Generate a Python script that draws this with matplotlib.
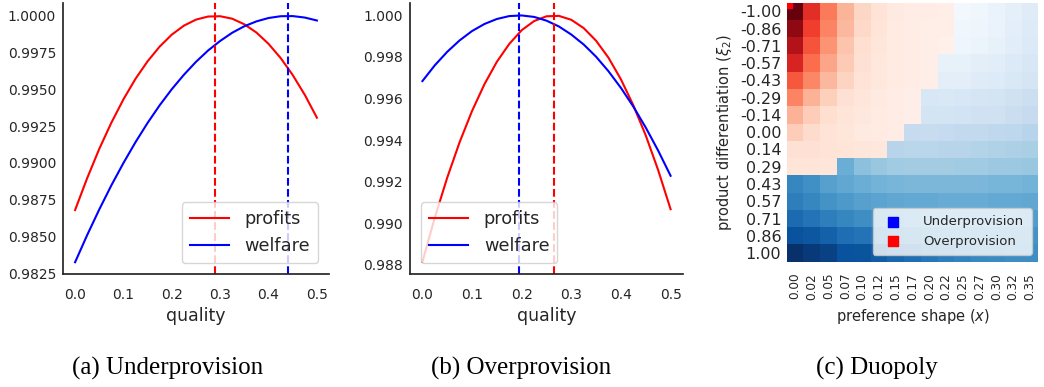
import matplotlib
matplotlib.use("Agg")
import matplotlib.pyplot as plt
import numpy as np
from matplotlib.ticker import FormatStrFormatter

# ---------------- data ----------------
quality = [0.0, 0.025, 0.05, 0.075, 0.1, 0.125, 0.15, 0.175, 0.2, 0.225, 0.25,
           0.275, 0.3, 0.325, 0.35, 0.375, 0.4, 0.425, 0.45, 0.475, 0.5]

# (a) Underprovision
a_profits = [0.98680, 0.98897, 0.99096, 0.99274, 0.99433, 0.99573, 0.99692,
             0.99792, 0.99873, 0.99934, 0.99975, 0.99996, 0.99998, 0.99981,
             0.99943, 0.99887, 0.99810, 0.99714, 0.99598, 0.99463, 0.99308]
a_welfare = [0.98325, 0.98510, 0.98684, 0.98848, 0.99000, 0.99142, 0.99273,
             0.99393, 0.99502, 0.99600, 0.99688, 0.99765, 0.99830, 0.99886,
             0.99930, 0.99963, 0.99986, 0.99998, 0.99999, 0.99989, 0.99969]
a_profit_peak = 0.29
a_welfare_peak = 0.44

# (b) Overprovision
b_profits = [0.98813, 0.99027, 0.99219, 0.99390, 0.99540, 0.99669, 0.99777,
             0.99863, 0.99929, 0.99973, 0.99996, 0.99998, 0.99979, 0.99939,
             0.99878, 0.99796, 0.99692, 0.99567, 0.99422, 0.99255, 0.99067]
b_welfare = [0.99684, 0.99760, 0.99825, 0.99880, 0.99925, 0.99959, 0.99983,
             0.99997, 1.00000, 0.99993, 0.99975, 0.99947, 0.99908, 0.99860,
             0.99801, 0.99731, 0.99651, 0.99561, 0.99460, 0.99349, 0.99228]
b_profit_peak = 0.265
b_welfare_peak = 0.195

quality_ticks = [0.0, 0.1, 0.2, 0.3, 0.4, 0.5]
a_yticks = [0.9825, 0.9850, 0.9875, 0.9900, 0.9925, 0.9950, 0.9975, 1.0000]
b_yticks = [0.988, 0.990, 0.992, 0.994, 0.996, 0.998, 1.000]

# (c) Duopoly heatmap: positive = overprovision (Reds), negative = underprovision (Blues)
pref_labels = ["0.00", "0.02", "0.05", "0.07", "0.10", "0.12", "0.15", "0.17",
               "0.20", "0.22", "0.25", "0.27", "0.30", "0.32", "0.35"]
xi_labels = ["-1.00", "-0.86", "-0.71", "-0.57", "-0.43", "-0.29", "-0.14", "0.00",
             "0.14", "0.29", "0.43", "0.57", "0.71", "0.86", "1.00"]
gap = [
    [1.00, 0.67, 0.45, 0.27, 0.16, 0.11, 0.07, 0.05, 0.05, 0.04, -0.02, -0.04, -0.07, -0.09, -0.12],
    [0.92, 0.62, 0.42, 0.26, 0.15, 0.10, 0.06, 0.05, 0.04, 0.04, -0.04, -0.05, -0.07, -0.10, -0.13],
    [0.83, 0.56, 0.37, 0.22, 0.13, 0.09, 0.06, 0.05, 0.04, 0.03, -0.05, -0.06, -0.08, -0.11, -0.14],
    [0.71, 0.49, 0.32, 0.20, 0.12, 0.08, 0.06, 0.05, 0.04, -0.08, -0.08, -0.10, -0.11, -0.14, -0.16],
    [0.55, 0.41, 0.26, 0.17, 0.11, 0.08, 0.06, 0.05, 0.04, -0.10, -0.10, -0.12, -0.13, -0.15, -0.17],
    [0.42, 0.28, 0.18, 0.12, 0.09, 0.07, 0.05, 0.04, -0.16, -0.15, -0.16, -0.17, -0.18, -0.20, -0.22],
    [0.28, 0.19, 0.13, 0.10, 0.08, 0.06, 0.05, 0.04, -0.18, -0.18, -0.19, -0.20, -0.20, -0.23, -0.25],
    [0.19, 0.14, 0.11, 0.09, 0.07, 0.06, 0.05, -0.25, -0.24, -0.25, -0.26, -0.26, -0.27, -0.28, -0.30],
    [0.12, 0.12, 0.11, 0.10, 0.09, 0.08, -0.30, -0.29, -0.29, -0.30, -0.30, -0.31, -0.32, -0.33, -0.34],
    [0.10, 0.10, 0.09, -0.50, -0.42, -0.39, -0.37, -0.36, -0.36, -0.36, -0.37, -0.37, -0.38, -0.38, -0.39],
    [-0.67, -0.63, -0.56, -0.53, -0.50, -0.48, -0.47, -0.46, -0.46, -0.46, -0.46, -0.46, -0.47, -0.47, -0.48],
    [-0.70, -0.67, -0.62, -0.59, -0.56, -0.55, -0.53, -0.52, -0.52, -0.51, -0.51, -0.51, -0.52, -0.52, -0.53],
    [-0.77, -0.74, -0.70, -0.67, -0.64, -0.62, -0.60, -0.58, -0.57, -0.56, -0.56, -0.56, -0.56, -0.57, -0.58],
    [-0.87, -0.85, -0.81, -0.76, -0.74, -0.71, -0.68, -0.66, -0.64, -0.62, -0.62, -0.61, -0.61, -0.62, -0.62],
    [-1.00, -0.96, -0.93, -0.87, -0.86, -0.83, -0.79, -0.76, -0.73, -0.70, -0.68, -0.66, -0.65, -0.64, -0.64],
]

captions = ["(a) Underprovision", "(b) Overprovision", "(c) Duopoly"]

# ---------------- style ----------------
TXT = "#262626"
plt.rcParams.update({
    "font.family": ["DejaVu Sans"],
    "text.color": TXT,
    "axes.labelcolor": TXT,
    "xtick.color": TXT,
    "ytick.color": TXT,
    "axes.edgecolor": TXT,
    "axes.linewidth": 1.25,
    "xtick.major.size": 0,
    "ytick.major.size": 0,
    "legend.edgecolor": "#cccccc",
    "legend.framealpha": 0.8,
})

W, H = 1044, 387
fig = plt.figure(figsize=(W / 100, H / 100), dpi=100)


def px_axes(left, top, right, bottom):
    return fig.add_axes([left / W, 1 - bottom / H, (right - left) / W, (bottom - top) / H])


def line_panel(ax, profits, welfare, p_peak, w_peak, yticks, fmt, legend_loc):
    ax.plot(quality, profits, color="red", lw=1.5, label="profits")
    ax.plot(quality, welfare, color="blue", lw=1.5, label="welfare")
    ax.axvline(p_peak, color="red", ls="--", lw=1.5)
    ax.axvline(w_peak, color="blue", ls="--", lw=1.5)
    ax.set_xlim(-0.025, 0.525)
    ax.set_xticks(quality_ticks)
    ax.set_yticks(yticks)
    ax.xaxis.set_major_formatter(FormatStrFormatter("%.1f"))
    ax.yaxis.set_major_formatter(FormatStrFormatter(fmt))
    ax.tick_params(axis="y", labelsize=10, pad=5)
    ax.tick_params(axis="x", labelsize=10, pad=10)
    ax.set_xlabel("quality", fontsize=12.5, labelpad=4)
    for s in ("top", "right"):
        ax.spines[s].set_visible(False)
    ax.legend(loc=legend_loc, fontsize=12.8, handlelength=2.2, borderpad=0.45,
              handletextpad=0.9, borderaxespad=0.6)


ax1 = px_axes(63, 3, 329, 274)
line_panel(ax1, a_profits, a_welfare, a_profit_peak, a_welfare_peak, a_yticks, "%.4f", "lower right")
ax1.set_ylim(0.98245, 1.00088)

ax2 = px_axes(410, 3, 683, 274)
line_panel(ax2, b_profits, b_welfare, b_profit_peak, b_welfare_peak, b_yticks, "%.3f", "lower left")
ax2.set_ylim(0.98755, 1.00060)

# heatmap
ax3 = px_axes(786.7, 2.7, 1038.3, 261.7)
G = np.array(gap)
over = np.ma.masked_where(G <= 0, G)
under = np.ma.masked_where(G >= 0, -G)
ax3.pcolormesh(over, cmap="Reds", vmin=0, vmax=1, linewidth=0, rasterized=True)
ax3.pcolormesh(under, cmap="Blues", vmin=0, vmax=1, linewidth=0, rasterized=True)
ax3.set_xlim(0, len(pref_labels))
ax3.set_ylim(len(xi_labels), 0)
ax3.set_xticks(np.arange(len(pref_labels)) + 0.5)
ax3.set_xticklabels(pref_labels, rotation=90)
ax3.set_yticks(np.arange(len(xi_labels)) + 0.5)
ax3.set_yticklabels(xi_labels)
ax3.tick_params(axis="y", labelsize=11.5, pad=4)
ax3.tick_params(axis="x", labelsize=8.7, pad=8)
for s in ax3.spines.values():
    s.set_visible(False)
ax3.set_xlabel("preference shape ($x$)", fontsize=10.5, labelpad=5)
ax3.set_ylabel(r"product differentiation ($\xi_2$)", fontsize=10.5, labelpad=4)
ax3.scatter([0], [0], marker="s", color="blue", s=50, label="Underprovision")
ax3.scatter([0], [0], marker="s", color="red", s=50, label="Overprovision")
ax3.legend(loc="lower right", fontsize=9.5, borderpad=0.55, handletextpad=1.3,
           borderaxespad=0.5)

# captions
for cx, txt in zip([168, 521, 877], captions):
    fig.text(cx / W, 1 - 368 / H, txt, ha="center", va="center", fontsize=18,
             family=["Liberation Serif"], color="black")

fig.savefig("out.png", dpi=100)
